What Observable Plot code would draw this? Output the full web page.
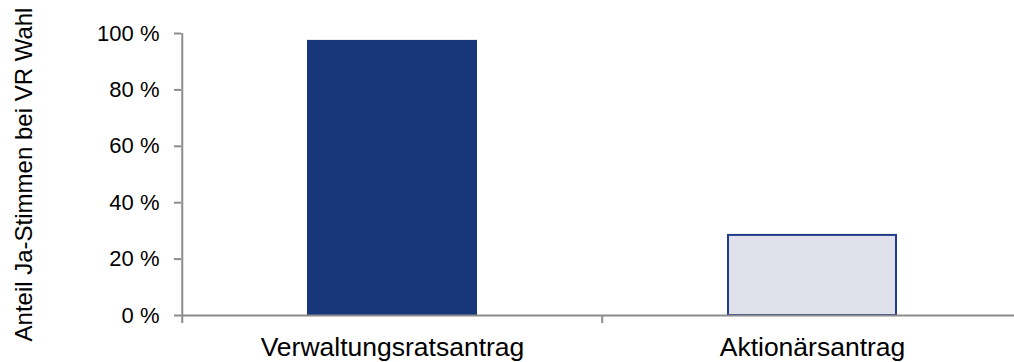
<!DOCTYPE html>
<html>
<head>
<meta charset="utf-8">
<script src="https://cdn.jsdelivr.net/npm/d3@7"></script>
<script src="https://cdn.jsdelivr.net/npm/@observablehq/plot@0.6"></script>
<style>
  html, body { margin: 0; padding: 0; background: #ffffff; }
  #chart { width: 1014px; height: 362px; }
</style>
</head>
<body>
<div id="chart"></div>
<script>
// Share of yes votes in board elections, by who filed the motion
const categories = ["Verwaltungsratsantrag", "Aktionärsantrag"];
const values = [97.2, 28.4];
const yTicks = [0, 20, 40, 60, 80, 100];
const yLabel = "Anteil Ja-Stimmen bei VR Wahl";

const navy = "#17377a";
const edge = "#1f3d8a";
const lavender = "#e1e1ec";
const axisGray = "#8c8c8c";

const xRange = [181, 1022];
const step = (xRange[1] - xRange[0]) / categories.length;

const data = categories.map((category, i) => ({category, value: values[i]}));

const chart = Plot.plot({
  width: 1014,
  height: 362,
  marginLeft: 181,
  marginRight: 0,
  marginTop: 33,
  marginBottom: 47,
  style: {fontFamily: "'Liberation Sans', Arial, Helvetica, sans-serif", background: "#ffffff", color: "#000"},
  x: {domain: categories, range: xRange, paddingInner: 0.6, paddingOuter: 0.3, axis: null, label: null},
  y: {domain: [0, 100], axis: null, label: null},
  color: {domain: categories, range: [navy, lavender]},
  marks: [
    Plot.barY(data, {x: "category", y: "value", fill: "category", stroke: (d) => d.category === categories[0] ? navy : edge, strokeWidth: 2}),
    Plot.ruleY([0], {stroke: axisGray, strokeWidth: 2}),
    // vertical axis line, reaching just below the baseline
    Plot.ruleX([categories[0]], {x: (d) => d, dx: -step / 2, y1: 100, y2: 0, insetBottom: -8, stroke: axisGray, strokeWidth: 2}),
    // short tick between the two categories
    Plot.ruleX(categories.slice(1), {x: (d) => d, dx: -step / 2, y1: 0, y2: 0, insetBottom: -8, stroke: axisGray, strokeWidth: 2}),
    Plot.axisY({ticks: yTicks, tickSize: 7, tickPadding: 15, tickFormat: (d) => `${d} %`, fontSize: 22, stroke: axisGray, strokeWidth: 2, fill: "#000", label: null}),
    Plot.axisX({tickSize: 0, tickPadding: 22, fontSize: 26.5, fill: "#000", label: null}),
    Plot.text([yLabel], {text: (d) => d, frameAnchor: "left", textAnchor: "middle", rotate: -90, dx: -157, fontSize: 24, lineAnchor: "middle", fill: "#000"})
  ]
});

document.getElementById("chart").appendChild(chart);
</script>
</body>
</html>
